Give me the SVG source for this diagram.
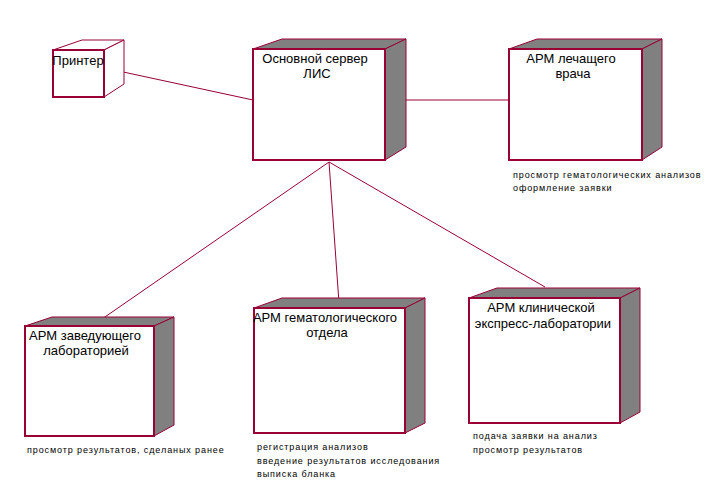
<svg xmlns="http://www.w3.org/2000/svg" width="708" height="494" viewBox="0 0 708 494">
<style>
.front{fill:#fff;stroke:#990033;stroke-width:2}
.shade{fill:#808080;stroke:#990033;stroke-width:1}
.plain{fill:#fff;stroke:#990033;stroke-width:1}
.conn{stroke:#990033;stroke-width:1;fill:none}
.t{font-family:"Liberation Sans",Arial,sans-serif;font-size:13px;fill:#000;text-anchor:middle}
.d{font-family:"Liberation Sans",Arial,sans-serif;font-size:9px;fill:#000;letter-spacing:0.9px}
</style>
<rect width="708" height="494" fill="#fff"/>
<g id="connectors">
<line class="conn" x1="114" y1="70" x2="253" y2="100"/>
<line class="conn" x1="396" y1="100" x2="510" y2="100"/>
<line class="conn" x1="329" y1="162" x2="102" y2="319"/>
<line class="conn" x1="329" y1="162" x2="339" y2="303"/>
<line class="conn" x1="329" y1="162" x2="545" y2="287"/>
</g>
<g id="printer">
<polygon class="plain" points="53,50 82,40 124,40 104,50"/>
<polygon class="plain" points="104,50 124,40 124,84 104,97"/>
<rect class="front" x="53" y="50" width="51" height="47"/>
<text class="t" x="78" y="65">Принтер</text>
</g>
<g id="server">
<polygon class="shade" points="253,49 282,39 406,39 385,49"/>
<polygon class="shade" points="385,49 406,39 406,147 385,160"/>
<rect class="front" x="253" y="49" width="132" height="111"/>
<text class="t" x="315" y="63">Основной сервер</text>
<text class="t" x="317" y="78">ЛИС</text>
</g>
<g id="doctor">
<polygon class="shade" points="509,49 537,39 662,39 642,49"/>
<polygon class="shade" points="642,49 662,39 662,147 642,160"/>
<rect class="front" x="509" y="49" width="133" height="111"/>
<text class="t" x="571" y="63">АРМ лечащего</text>
<text class="t" x="573" y="78">врача</text>
<text class="d" x="513" y="178">просмотр гематологических анализов</text>
<text class="d" x="513" y="191">оформление заявки</text>
</g>
<g id="head">
<polygon class="shade" points="25,326 52,317 174,317 154,326"/>
<polygon class="shade" points="154,326 174,317 174,425 154,436"/>
<rect class="front" x="25" y="326" width="129" height="110"/>
<text class="t" x="85" y="340">АРМ заведующего</text>
<text class="t" x="86" y="355">лабораторией</text>
<text class="d" x="27" y="453">просмотр результатов, сделаных ранее</text>
</g>
<g id="hematology">
<polygon class="shade" points="254,308 282,298 425,298 405,308"/>
<polygon class="shade" points="405,308 425,298 425,423 405,433"/>
<rect class="front" x="254" y="308" width="151" height="125"/>
<text class="t" x="325" y="322">АРМ гематологического</text>
<text class="t" x="327" y="337">отдела</text>
<text class="d" x="257" y="450">регистрация анализов</text>
<text class="d" x="257" y="464">введение результатов исследования</text>
<text class="d" x="257" y="477">выписка бланка</text>
</g>
<g id="express">
<polygon class="shade" points="469,298 497,288 640,288 620,298"/>
<polygon class="shade" points="620,298 640,288 640,412 620,423"/>
<rect class="front" x="469" y="298" width="151" height="125"/>
<text class="t" x="541" y="312">АРМ клинической</text>
<text class="t" x="543" y="328">экспресс-лаборатории</text>
<text class="d" x="473" y="439">подача заявки на анализ</text>
<text class="d" x="473" y="453">просмотр результатов</text>
</g>
</svg>
